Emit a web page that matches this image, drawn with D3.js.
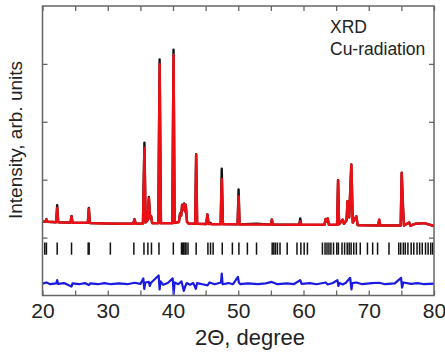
<!DOCTYPE html>
<html>
<head>
<meta charset="utf-8">
<script src="https://cdn.jsdelivr.net/npm/d3@7"></script>
<style>
  html, body { margin: 0; padding: 0; background: #fff; }
  svg { display: block; font-family: "Liberation Sans", Arial, sans-serif; }
</style>
</head>
<body>
<svg id="chart" width="445" height="353"></svg>
<script>
// 2θ grid of the powder pattern (degrees)
const twoTheta = [
  20.0, 20.45, 20.6, 20.75, 21.5, 22.1, 22.25, 22.4, 23.5, 24.3, 24.45, 24.6,
  25.8, 26.95, 27.1, 27.25, 29.0, 30.4, 32.0, 33.9, 34.1, 34.3, 35.4, 35.62,
  35.8, 36.1, 36.3, 36.5, 36.65, 36.8, 37.75, 37.95, 38.15, 39.9, 40.08, 40.25,
  40.9, 41.1, 41.25, 41.4, 41.55, 41.7, 41.85, 41.95, 42.15, 42.4, 43.4, 43.55,
  43.7, 45.1, 45.27, 45.45, 45.7, 46.0, 47.3, 47.47, 47.65, 49.9, 50.05, 50.2,
  52.8, 55.0, 55.15, 55.3, 57.5, 59.35, 59.5, 59.65, 63.2, 63.4, 63.55, 63.7,
  63.9, 65.15, 65.3, 65.45, 66.0, 66.2, 66.6, 66.75, 66.9, 67.0, 67.33, 67.55,
  68.1, 68.3, 71.45, 71.6, 71.75, 74.9, 75.05, 75.25, 75.4, 76.2, 76.4, 77.2,
  78.5, 80.0
];
// calculated (Rietveld) intensity, arb. units
const yCalc = [
  275, 275, 310, 275, 270, 265, 512, 265, 262, 260, 367, 258,
  255, 255, 500, 252, 245, 242, 238, 238, 310, 238, 245, 1546,
  260, 300, 684, 330, 367, 250, 250, 3000, 250, 250, 3155, 255,
  270, 420, 380, 560, 480, 580, 450, 560, 270, 240, 240, 1431,
  240, 235, 397, 235, 240, 232, 232, 1012, 232, 230, 712, 228,
  228, 225, 310, 225, 222, 222, 280, 222, 220, 320, 280, 330,
  220, 222, 988, 230, 310, 240, 300, 626, 400, 350, 1259, 260,
  367, 215, 210, 310, 210, 210, 1115, 520, 210, 260, 205, 240,
  250, 200
];
// observed intensity on the same grid
const yObs = [
  275, 275, 320, 275, 270, 265, 560, 265, 262, 260, 375, 258,
  255, 255, 510, 252, 245, 242, 238, 238, 320, 238, 245, 1640,
  260, 300, 700, 330, 370, 250, 250, 3075, 250, 250, 3245, 255,
  270, 420, 380, 570, 480, 590, 450, 570, 270, 240, 240, 1440,
  240, 235, 400, 240, 255, 232, 232, 1190, 232, 230, 830, 228,
  240, 225, 315, 225, 222, 222, 330, 222, 220, 320, 280, 330,
  220, 222, 990, 230, 310, 240, 300, 630, 400, 350, 1265, 260,
  367, 215, 210, 310, 210, 210, 1120, 520, 210, 260, 205, 240,
  250, 200
];
// difference curve Yobs - Ycalc
const diffTheta = [
  20.0, 20.6, 21.2, 22.1, 22.25, 22.4, 23.3, 24.45, 24.6, 25.6, 26.5, 27.1,
  27.3, 28.5, 29.5, 30.5, 31.7, 33.0, 34.1, 35.0, 35.45, 35.6, 35.75, 36.3,
  36.45, 36.6, 37.8, 37.95, 38.1, 38.5, 39.2, 39.95, 40.1, 40.25, 40.8, 41.3,
  41.65, 41.9, 42.1, 42.6, 43.1, 43.5, 43.7, 44.5, 45.3, 45.6, 46.4, 47.35,
  47.47, 47.6, 48.5, 49.2, 49.95, 50.1, 50.3, 51.5, 53.0, 54.2, 55.15, 56.0,
  57.5, 58.5, 59.5, 59.7, 61.0, 62.0, 63.4, 63.7, 64.5, 65.2, 65.35, 65.5,
  66.0, 66.5, 67.15, 67.35, 67.5, 68.1, 69.0, 70.5, 71.6, 72.5, 74.0, 74.95,
  75.1, 75.3, 76.5, 77.5, 78.5, 80.0
];
const yDiff = [
  0, 20, -10, 5, 60, -5, 10, -50, 5, -10, 10, -25,
  5, -10, 10, -10, 5, -10, 15, -5, 90, -90, 20, 30,
  -40, 10, 140, -100, 40, -20, 10, 90, -180, 20, -10, 40,
  -125, -40, 10, -20, 10, -90, 10, -10, -30, 20, -10, 20,
  175, -10, 10, -10, 115, 20, -10, 5, -10, 5, 30, -10,
  5, -10, 60, -5, 10, -10, 20, -15, 10, 60, -40, 10,
  -15, 15, 100, -100, 10, 20, -10, 10, 15, -10, 5, 100,
  -70, 20, -5, 10, -10, 0
];
// Bragg reflection positions (degrees)
const braggPositions = [
  20.35, 20.6, 22.25, 24.45, 27.0, 27.15, 30.4, 34.0, 35.55, 36.15, 36.7, 37.85,
  40.05, 41.3, 41.5, 41.65, 41.85, 42.0, 42.3, 43.55, 45.35, 45.75, 46.15, 47.55,
  49.1, 50.1, 51.4, 52.8, 55.2, 55.45, 55.7, 56.0, 56.4, 57.5, 59.0, 59.6,
  60.1, 60.6, 62.9, 63.3, 63.6, 63.9, 64.2, 64.6, 65.1, 65.35, 65.9, 66.3,
  66.7, 67.0, 67.3, 67.7, 68.1, 68.7, 69.8, 70.6, 71.35, 73.1, 74.6, 74.9,
  75.3, 75.6, 76.0, 76.5, 76.9, 77.4, 77.8, 78.2, 78.7, 79.1, 79.5, 79.8
];
const xTicks = [20, 25, 30, 35, 40, 45, 50, 55, 60, 65, 70, 75, 80];
const yTicks = [0, 1000, 2000, 3000];
const xTitle = "2\u0398, degree";
const yTitle = "Intensity, arb. units";
const noteLines = ["XRD", "Cu-radiation"];

const svg = d3.select("#chart");
const mLeft = 42.5, mRight = 434, mTop = 6, mBottom = 295.5;

const x = d3.scaleLinear().domain([20, 80]).range([mLeft, mRight]);
const y = d3.scaleLinear().domain([-1000, 4000]).range([mBottom, mTop]);

// vertical placement of the tick row and the difference curve (intensity units)
const braggTop = -85, braggBottom = -295, diffOffset = -795;

const plot = svg.append("g");

const line = d3.line().x(d => x(d[0])).y(d => y(d[1]));

plot.append("path")
  .datum(twoTheta.map((t, i) => [t, yObs[i]]))
  .attr("d", line)
  .attr("fill", "none")
  .attr("stroke", "#111")
  .attr("stroke-width", 2.4)
  .attr("stroke-linejoin", "round");

plot.append("path")
  .datum(twoTheta.map((t, i) => [t, yCalc[i]]))
  .attr("d", line)
  .attr("fill", "none")
  .attr("stroke", "#ec1016")
  .attr("stroke-width", 2.5)
  .attr("stroke-linejoin", "round");

plot.selectAll("line.bragg")
  .data(braggPositions)
  .join("line")
  .attr("class", "bragg")
  .attr("x1", d => x(d)).attr("x2", d => x(d))
  .attr("y1", y(braggTop)).attr("y2", y(braggBottom))
  .attr("stroke", "#111")
  .attr("stroke-width", 1.5);

plot.append("path")
  .datum(diffTheta.map((t, i) => [t, yDiff[i] + diffOffset]))
  .attr("d", line)
  .attr("fill", "none")
  .attr("stroke", "#1a1ae0")
  .attr("stroke-width", 2.2)
  .attr("stroke-linejoin", "round");

// axes with inward ticks on all four sides
const frameColor = "#666";
const styleAxis = g => {
  g.select(".domain").remove();
  g.selectAll(".tick line").attr("stroke", frameColor).attr("stroke-width", 1.3);
  g.selectAll(".tick text")
    .attr("fill", "#222")
    .style("font-size", "21px")
    .style("font-family", "'Liberation Sans', Arial, sans-serif");
};

svg.append("g")
  .attr("transform", `translate(0,${mBottom})`)
  .call(d3.axisBottom(x).tickValues(xTicks).tickSizeInner(-5).tickSizeOuter(0).tickPadding(8)
    .tickFormat(d => d % 10 === 0 ? d : ""))
  .call(styleAxis);

svg.append("g")
  .attr("transform", `translate(0,${mTop})`)
  .call(d3.axisTop(x).tickValues(xTicks).tickSizeInner(-5).tickSizeOuter(0).tickFormat(""))
  .call(styleAxis);

svg.append("g")
  .attr("transform", `translate(${mLeft},0)`)
  .call(d3.axisLeft(y).tickValues(yTicks).tickSizeInner(-5).tickSizeOuter(0).tickFormat(""))
  .call(styleAxis);

svg.append("g")
  .attr("transform", `translate(${mRight},0)`)
  .call(d3.axisRight(y).tickValues(yTicks).tickSizeInner(-5).tickSizeOuter(0).tickFormat(""))
  .call(styleAxis);

svg.append("rect")
  .attr("x", mLeft).attr("y", mTop)
  .attr("width", mRight - mLeft).attr("height", mBottom - mTop)
  .attr("fill", "none")
  .attr("stroke", frameColor)
  .attr("stroke-width", 1.5);

svg.append("text")
  .attr("x", 250).attr("y", 345)
  .attr("text-anchor", "middle")
  .attr("fill", "#222")
  .style("font-size", "22px")
  .text(xTitle);

svg.append("text")
  .attr("transform", "translate(22,140) rotate(-90)")
  .attr("text-anchor", "middle")
  .attr("fill", "#222")
  .style("font-size", "19px")
  .text(yTitle);

svg.selectAll("text.note")
  .data(noteLines)
  .join("text")
  .attr("class", "note")
  .attr("x", 330)
  .attr("y", (d, i) => 33 + i * 21.5)
  .attr("fill", "#222")
  .style("font-size", "17.5px")
  .text(d => d);
</script>
</body>
</html>
